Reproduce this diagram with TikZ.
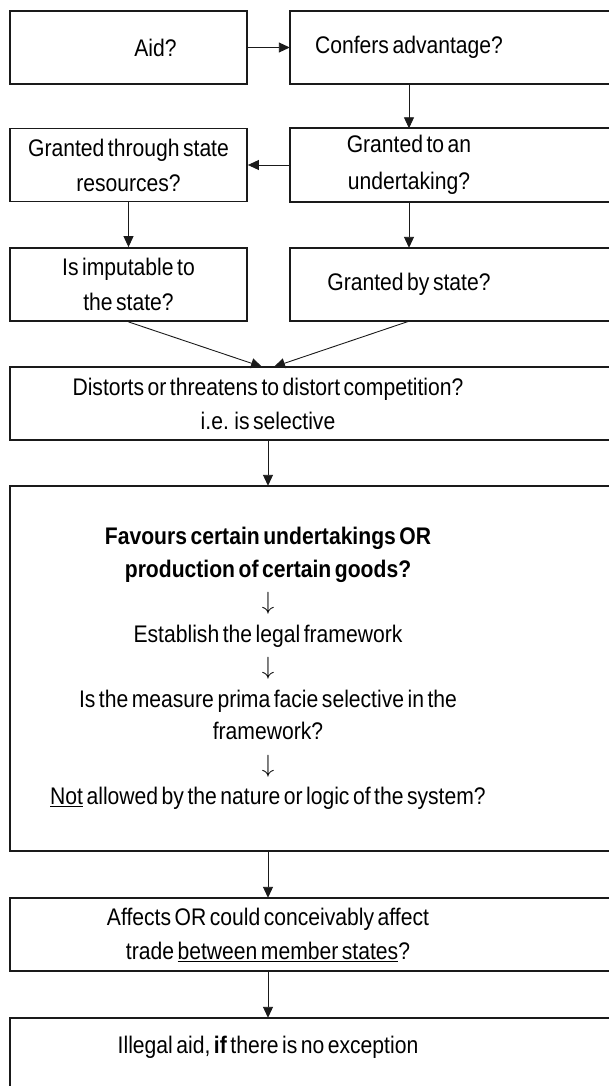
\documentclass[tikz,border=0pt]{standalone}
\usepackage{fontspec}
\setmainfont{Liberation Sans}[FakeStretch=0.88,WordSpace=0.6]
\usetikzlibrary{arrows.meta,positioning}
\definecolor{ink}{HTML}{1A1A1A}
\tikzset{
  qbox/.style={
    rectangle, draw=ink, line width=1.8pt,
    minimum width=237pt, minimum height=73pt,
    font=\fontsize{24}{35}\selectfont, align=center,
    inner sep=2pt
  },
  % boxes that run off the right edge: frame drawn apart
  openbox/.style={
    rectangle, draw=none,
    minimum width=#1, minimum height=73pt,
    font=\fontsize{24}{34}\selectfont, align=center,
    inner sep=2pt
  },
  openbox/.default=516pt,
  frame/.style={draw=ink, line width=1.8pt},
  flow/.style={-{Triangle[length=11pt,width=10pt]}, line width=0.9pt, draw=ink},
}
\begin{document}
\begin{tikzpicture}[x=1pt,y=1pt]
  \useasboundingbox (0,0) rectangle (609,-1086);
  \clip (0,0) rectangle (609,-1086);

  % top rows, two columns
  \node[qbox] (aid) at (128.5,-47.5) {\hspace*{54pt}Aid?};
  \node[openbox=238pt] (adv) at (409,-47.5) {Confers advantage?};
  \node[qbox] (thr) at (128.5,-165) {Granted through state\\resources?};
  \node[openbox=238pt, font=\fontsize{24}{37}\selectfont] (und) at (409,-165)
    {Granted to an\\undertaking?};
  \node[qbox] (imp) at (128.5,-284.5) {Is imputable to\\the state?};
  \node[openbox=238pt] (bys) at (409,-284.5) {Granted by state?};

  % full width column
  \node[openbox] (dist) at (268,-403.5)
    {Distorts or threatens to distort competition?\\i.e. is selective};
  \node[openbox, minimum height=365pt, font=\fontsize{24}{32.5}\selectfont] (fav) at (268,-668.5)
    {\textbf{Favours certain undertakings OR}\\\textbf{production of certain goods?}\\
     $\downarrow$\\Establish the legal framework\\$\downarrow$\\
     Is the measure prima facie selective in the\\framework?\\$\downarrow$\\
     \underline{Not} allowed by the nature or logic of the system?};
  \node[openbox] (aff) at (268,-934.5)
    {Affects OR could conceivably affect\\trade \underline{between member states}?};
  \node[openbox, minimum height=58pt] (ill) at (268,-1047)
    {Illegal aid, \textbf{if} there is no exception};

  % frames cut by the right edge
  \coordinate (rim) at (640,-1100);
  \foreach \b in {adv,und,bys,dist,fav,aff} {
    \draw[frame] (\b.north west) rectangle (\b.south west -| rim);
  }
  \draw[frame] (ill.north west) rectangle (rim);

  % connectors
  \draw[flow] (aid) -- (adv);
  \draw[flow] (adv) -- (und);
  \draw[flow] (und) -- (thr);
  \draw[flow] (thr) -- (imp);
  \draw[flow] (und) -- (bys);
  \draw[flow] (imp.south) -- ([xshift=-6pt]dist.north);
  \draw[flow] (bys.south) -- ([xshift=6pt]dist.north);
  \foreach \a/\b in {dist/fav,fav/aff,aff/ill} {
    \draw[flow] (\a) -- (\b);
  }
\end{tikzpicture}
\end{document}
